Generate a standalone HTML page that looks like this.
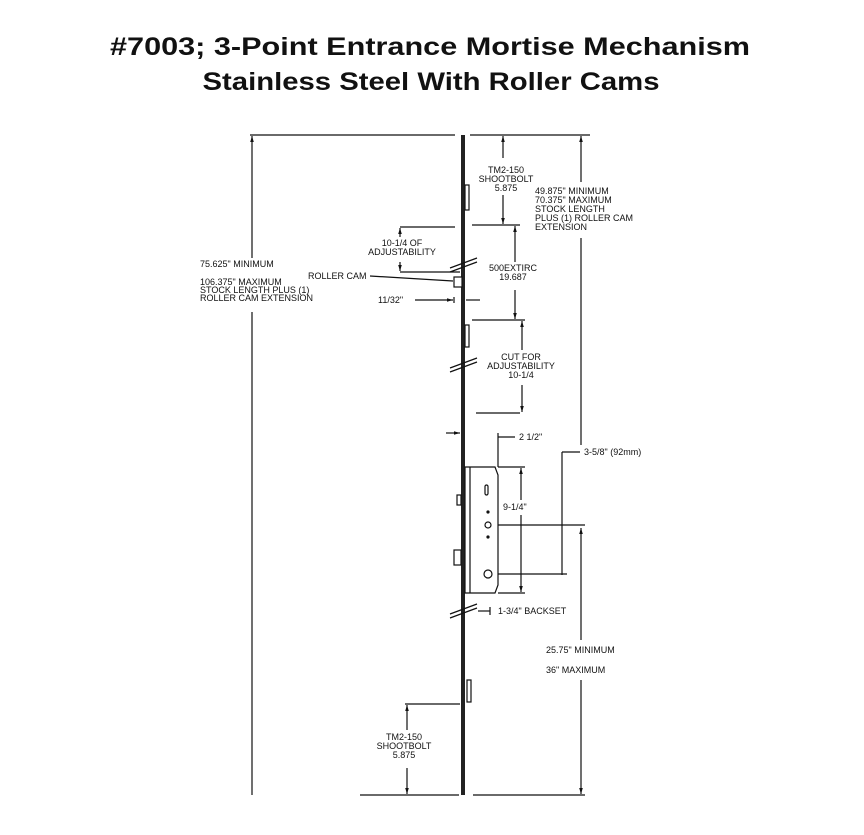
<!DOCTYPE html>
<html><head><meta charset="utf-8"><style>
html,body{margin:0;padding:0;background:#fff;}
svg{display:block;}
text{font-family:"Liberation Sans",sans-serif;fill:#111;}
.s{font-size:9px;font-family:"Liberation Sans Narrow","Liberation Sans",sans-serif;}
</style></head><body>
<svg width="864" height="835" viewBox="0 0 864 835" xmlns="http://www.w3.org/2000/svg">
<defs>
<marker id="a" viewBox="0 0 10 10" refX="10" refY="5" markerWidth="5" markerHeight="5" orient="auto-start-reverse"><path d="M0,2 L10,5 L0,8 z" fill="#111"/></marker>
</defs>
<text x="430" y="55" font-size="25" font-weight="bold" text-anchor="middle" textLength="640" lengthAdjust="spacingAndGlyphs">#7003; 3-Point Entrance Mortise Mechanism</text>
<text x="431" y="90" font-size="25" font-weight="bold" text-anchor="middle" textLength="457" lengthAdjust="spacingAndGlyphs">Stainless Steel With Roller Cams</text>
<g stroke="#111" stroke-width="1.2" fill="none">
<rect x="461" y="135" width="4" height="660" fill="#222" stroke="none"/>
<line x1="250" y1="135" x2="455" y2="135"/>
<line x1="470" y1="135" x2="590" y2="135"/>
<line x1="360" y1="795" x2="459" y2="795"/>
<line x1="473" y1="795" x2="585" y2="795"/>
<line x1="252" y1="136" x2="252" y2="258" marker-start="url(#a)"/>
<line x1="252" y1="312" x2="252" y2="795"/>
<line x1="581" y1="136" x2="581" y2="182" marker-start="url(#a)"/>
<line x1="581" y1="238" x2="581" y2="445"/>
<line x1="581" y1="528" x2="581" y2="640" marker-start="url(#a)"/>
<line x1="581" y1="680" x2="581" y2="794" marker-end="url(#a)"/>
<line x1="503" y1="136" x2="503" y2="158" marker-start="url(#a)"/>
<line x1="503" y1="195" x2="503" y2="224" marker-end="url(#a)"/>
<line x1="472" y1="225" x2="520" y2="225"/>
<line x1="515" y1="226" x2="515" y2="262" marker-start="url(#a)"/>
<line x1="515" y1="290" x2="515" y2="319" marker-end="url(#a)"/>
<line x1="472" y1="320" x2="525" y2="320"/>
<line x1="522" y1="321" x2="522" y2="350" marker-start="url(#a)"/>
<line x1="522" y1="385" x2="522" y2="412" marker-end="url(#a)"/>
<line x1="476" y1="413" x2="520" y2="413"/>
<line x1="400" y1="227" x2="455" y2="227"/>
<line x1="400" y1="272" x2="460" y2="272"/>
<line x1="400" y1="228" x2="400" y2="237" marker-start="url(#a)"/>
<line x1="400" y1="262" x2="400" y2="271" marker-end="url(#a)"/>
<path d="M450,268 L477,258 M450,272 L477,262"/>
<path d="M450,368 L477,358 M450,372 L477,362"/>
<path d="M450,614 L477,604 M450,618 L477,608"/>
<rect x="454" y="277" width="8" height="10" fill="#fff"/>
<line x1="370" y1="276" x2="453" y2="281"/>
<line x1="415" y1="300" x2="453" y2="300" marker-end="url(#a)"/>
<line x1="454" y1="297" x2="454" y2="303"/>
<line x1="466" y1="300" x2="480" y2="300"/>
<rect x="465" y="185" width="4" height="25"/>
<rect x="465" y="325" width="4" height="22"/>
<rect x="457" y="495" width="4" height="10"/>
<rect x="454" y="550" width="7" height="15"/>
<rect x="467" y="680" width="4" height="22"/>
<line x1="446" y1="433" x2="460" y2="433" marker-end="url(#a)"/>
<path d="M465,467 L495,467 L498,475 L498,585 L495,593 L465,593 Z" fill="#fff"/>
<line x1="470" y1="467" x2="470" y2="593"/>
<rect x="485" y="485" width="3" height="10" rx="1.5"/>
<circle cx="488" cy="512" r="1" fill="#111"/>
<circle cx="488" cy="525" r="3"/>
<circle cx="488" cy="537" r="1" fill="#111"/>
<circle cx="488" cy="574" r="4"/>
<line x1="498" y1="433" x2="498" y2="467"/>
<line x1="498" y1="437" x2="515" y2="437"/>
<line x1="498" y1="467" x2="525" y2="467"/>
<line x1="498" y1="593" x2="525" y2="593"/>
<line x1="521" y1="468" x2="521" y2="500" marker-start="url(#a)"/>
<line x1="521" y1="515" x2="521" y2="592" marker-end="url(#a)"/>
<line x1="562" y1="452" x2="580" y2="452"/>
<line x1="562" y1="452" x2="562" y2="575"/>
<line x1="498" y1="525" x2="585" y2="525"/>
<line x1="498" y1="574" x2="567" y2="574"/>
<line x1="478" y1="611" x2="490" y2="611"/>
<line x1="490" y1="607" x2="490" y2="615"/>
<line x1="405" y1="704" x2="460" y2="704"/>
<line x1="407" y1="705" x2="407" y2="730" marker-start="url(#a)"/>
<line x1="407" y1="768" x2="407" y2="794" marker-end="url(#a)"/>
</g>
<g class="s">
<text x="506" y="173" text-anchor="middle" class="s">TM2-150</text>
<text x="506" y="182" text-anchor="middle" class="s">SHOOTBOLT</text>
<text x="506" y="191" text-anchor="middle" class="s">5.875</text>
<text x="535" y="194" class="s">49.875" MINIMUM</text>
<text x="535" y="203" class="s">70.375" MAXIMUM</text>
<text x="535" y="212" class="s">STOCK LENGTH</text>
<text x="535" y="221" class="s">PLUS (1) ROLLER CAM</text>
<text x="535" y="230" class="s">EXTENSION</text>
<text x="402" y="246" text-anchor="middle" class="s">10-1/4 OF</text>
<text x="402" y="255" text-anchor="middle" class="s">ADJUSTABILITY</text>
<text x="200" y="267" class="s">75.625" MINIMUM</text>
<text x="200" y="285" class="s">106.375" MAXIMUM</text>
<text x="200" y="293" class="s">STOCK LENGTH PLUS (1)</text>
<text x="200" y="301" class="s">ROLLER CAM EXTENSION</text>
<text x="308" y="279" class="s">ROLLER CAM</text>
<text x="378" y="303" class="s">11/32"</text>
<text x="513" y="271" text-anchor="middle" class="s">500EXTIRC</text>
<text x="513" y="280" text-anchor="middle" class="s">19.687</text>
<text x="521" y="360" text-anchor="middle" class="s">CUT FOR</text>
<text x="521" y="369" text-anchor="middle" class="s">ADJUSTABILITY</text>
<text x="521" y="378" text-anchor="middle" class="s">10-1/4</text>
<text x="519" y="440" class="s">2 1/2"</text>
<text x="584" y="455" class="s">3-5/8" (92mm)</text>
<text x="503" y="510" class="s">9-1/4"</text>
<text x="498" y="614" class="s">1-3/4" BACKSET</text>
<text x="546" y="653" class="s">25.75" MINIMUM</text>
<text x="546" y="673" class="s">36" MAXIMUM</text>
<text x="404" y="740" text-anchor="middle" class="s">TM2-150</text>
<text x="404" y="749" text-anchor="middle" class="s">SHOOTBOLT</text>
<text x="404" y="758" text-anchor="middle" class="s">5.875</text>
</g>
</svg>
</body></html>
